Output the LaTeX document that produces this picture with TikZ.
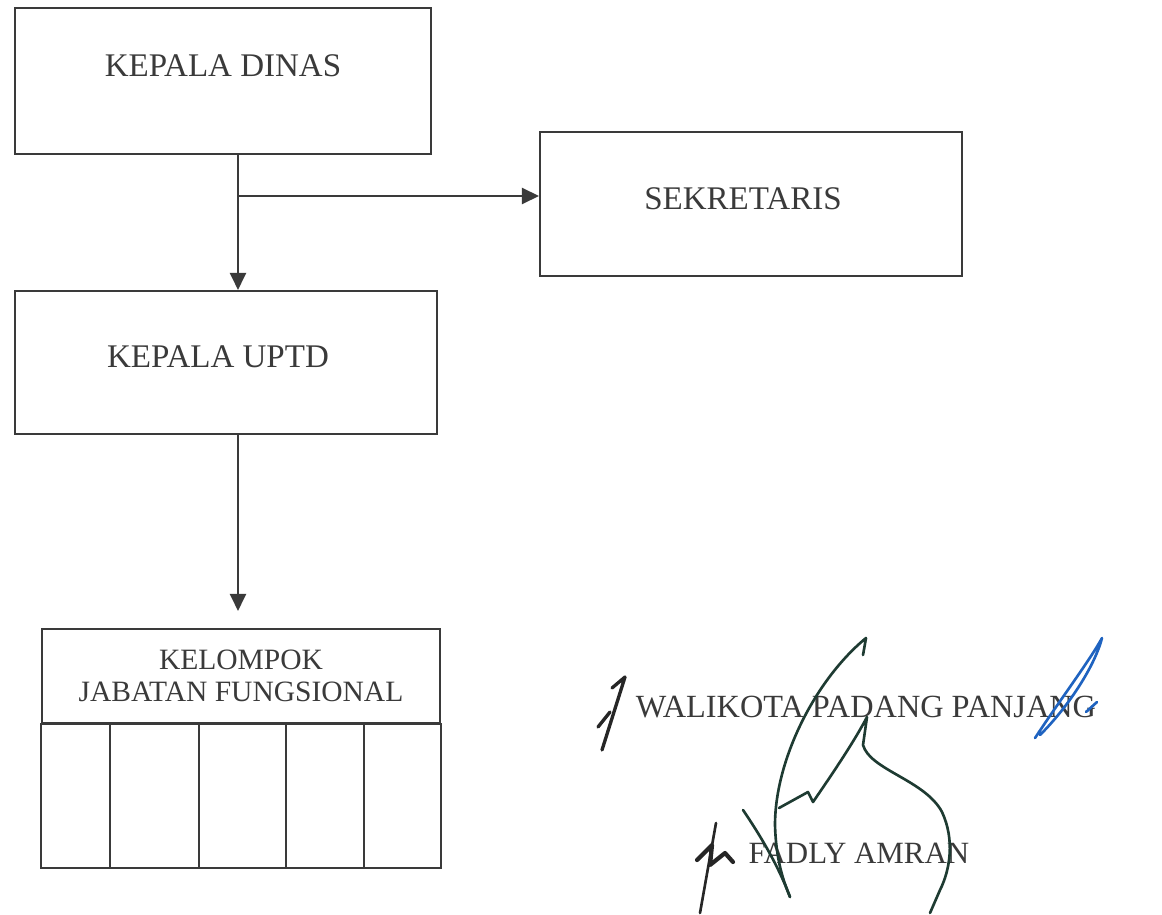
\documentclass[tikz,border=0pt]{standalone}
\usepackage{fontspec}
\setmainfont{Liberation Serif}
\usepackage{tikz}
\usetikzlibrary{calc}
\usetikzlibrary{arrows.meta}
\definecolor{ink}{HTML}{3A3A3A}
\definecolor{pen}{HTML}{1E3B32}
\definecolor{bluepen}{HTML}{1F63C0}
\tikzset{
  box/.style={draw=ink, line width=1.2pt, inner sep=0pt},
  txt/.style={text=ink, inner sep=0pt, font=\fontsize{18.8}{21}\selectfont},
  link/.style={draw=ink, line width=1.2pt, -{Triangle[length=0.34cm,width=0.32cm]}},
  sig/.style={draw=pen, line width=1.5pt, line cap=round, line join=round},
}

\begin{document}
\begin{tikzpicture}[x=0.02cm,y=-0.02cm]
        \useasboundingbox (0,0) rectangle (1162,915);
        % boxes
        \node[box, minimum width=8.32cm, minimum height=2.92cm] (dinas) at (223,81) {};
        \node[box, minimum width=8.44cm, minimum height=2.88cm] (sek) at (751,204) {};
        \node[box, minimum width=8.44cm, minimum height=2.86cm] (uptd) at (226,362.5) {};
        \node[box, minimum width=7.96cm, minimum height=1.88cm] (kjf) at (241,676) {};
        % texts
        \node[txt] (dinas-t) at (223,66) {KEPALA DINAS};
        \node[txt] (sek-t) at (743,199) {SEKRETARIS};
        \node[txt] (uptd-t) at (218,357) {KEPALA UPTD};
        \node[txt, align=center, font=\fontsize{16.8}{18.4}\selectfont] (kjf-t) at (241,676) {KELOMPOK\\JABATAN FUNGSIONAL};
        % cells under kjf
        \draw[ink, line width=1.2pt] (kjf.south west) rectangle ([yshift=-2.88cm]kjf.south east);
        \foreach \x in {110,199,286,364}
          \draw[ink, line width=1.2pt] (\x,723) -- (\x,867);
        % arrows
        \coordinate (trunk) at (238,196);
        \draw[link] (trunk |- dinas.south) -- (trunk |- uptd.north);
        \draw[link] (trunk) -- (trunk -| sek.west);
        \draw[link] (trunk |- uptd.south) -- ([yshift=0.34cm]trunk |- kjf.north);
        % signature block
        \node[txt, font=\fontsize{18.4}{21}\selectfont] (walikota) at (866,707) {WALIKOTA PADANG PANJANG};
        \node[txt, font=\fontsize{17.6}{21}\selectfont] (nama) at (859,853) {FADLY AMRAN};
        \draw[sig] (863,655) -- (866,638) .. controls (815,680) and (775,760) .. (775,825)
                   .. controls (776,860) and (783,880) .. (790,897);
        \draw[sig] (743,810) .. controls (760,835) and (778,865) .. (790,897);
        \draw[sig] (779,808) -- (808,792) -- (813,802) .. controls (835,770) and (855,740) .. (867,717)
                   -- (863,745) .. controls (870,770) and (925,780) .. (942,812)
                   .. controls (955,840) and (950,870) .. (940,890) -- (930,913);
        \draw[sig, draw=black!85, line width=1.9pt] (612,688) -- (625,677) -- (602,750);
        \draw[sig, draw=black!85, line width=1.9pt] (598,727) -- (610,712);
        \draw[sig, draw=black!85] (716,823) -- (700,913);
        \draw[sig, draw=black!85, line width=2.4pt] (697,860) -- (712,845) -- (710,865) -- (725,853) -- (733,862);
        \draw[sig, draw=bluepen] (1035,738) .. controls (1060,700) and (1090,660) .. (1102,638)
                   .. controls (1095,665) and (1070,705) .. (1040,735);
        \draw[sig, draw=bluepen] (1097,702) -- (1086,712);
    \end{tikzpicture}
\end{document}
